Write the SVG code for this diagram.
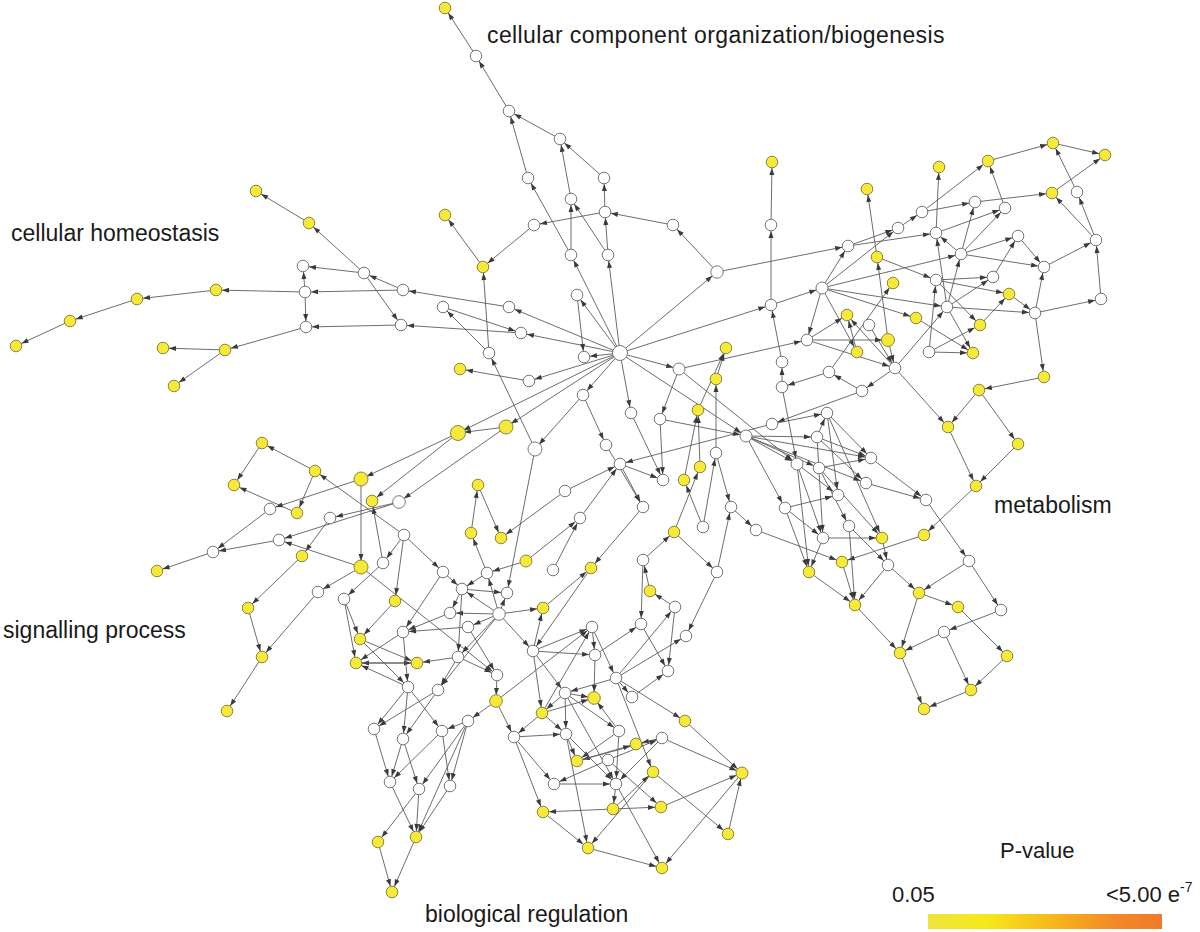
<svg xmlns="http://www.w3.org/2000/svg" width="1200" height="932" viewBox="0 0 1200 932">
<style>
#edges path{stroke:#5c5c5c;stroke-width:.9;fill:none;marker-end:url(#a)}
.w{fill:#fff;stroke:#777;stroke-width:1}
.y{fill:#F6E93A;stroke:#8a863a;stroke-width:1}
.lbl{font-family:"Liberation Sans",Arial,sans-serif;font-size:23px;fill:#1a1a1a}
.leg{font-family:"Liberation Sans",Arial,sans-serif;font-size:22px;fill:#1a1a1a}
</style>
<defs>
<marker id="a" viewBox="0 0 7 5" markerWidth="7" markerHeight="5" refX="13" refY="2.5" orient="auto" markerUnits="userSpaceOnUse" overflow="visible"><path d="M0,0L7,2.5L0,5z" fill="#3a3a3a"/></marker>
<linearGradient id="g" x1="0" y1="0" x2="1" y2="0">
<stop offset="0" stop-color="#EEE43E"/><stop offset=".25" stop-color="#F7E81A"/><stop offset=".55" stop-color="#F6B41C"/><stop offset=".8" stop-color="#F28A26"/><stop offset="1" stop-color="#EF7A2A"/>
</linearGradient>
</defs>
<rect width="1200" height="932" fill="#fff"/>
<g id="edges">
<path d="M476 56L445 8"/><path d="M509 111L476 56"/><path d="M560 139L509 111"/><path d="M528 178L509 111"/><path d="M604 178L560 139"/><path d="M571 199L560 139"/><path d="M605 212L604 178"/><path d="M605 212L534 225"/><path d="M673 225L605 212"/><path d="M534 225L483 267"/><path d="M483 267L445 215"/><path d="M571 255L571 199"/><path d="M608 255L571 199"/><path d="M608 255L605 212"/><path d="M571 255L528 178"/><path d="M717 272L673 225"/><path d="M620 353L571 255"/><path d="M620 353L608 255"/><path d="M620 353L717 272"/><path d="M620 353L577 295"/><path d="M771 225L772 162"/><path d="M771 305L771 225"/><path d="M717 272L848 246"/><path d="M620 353L771 305"/><path d="M771 305L822 288"/>
<path d="M489 353L483 267"/><path d="M535 449L489 353"/><path d="M489 353L443 307"/><path d="M443 307L521 333"/><path d="M364 273L309 223"/><path d="M309 223L256 191"/><path d="M364 273L303 266"/><path d="M403 290L364 273"/><path d="M403 290L305 292"/><path d="M305 292L303 266"/><path d="M305 292L216 290"/><path d="M216 290L137 299"/><path d="M137 299L70 321"/><path d="M70 321L16 346"/><path d="M305 292L306 327"/><path d="M364 273L401 325"/><path d="M401 325L306 327"/><path d="M306 327L225 350"/><path d="M225 350L163 348"/><path d="M225 350L174 386"/><path d="M509 307L403 290"/><path d="M521 333L401 325"/>
<path d="M620 353L509 307"/><path d="M620 353L521 333"/><path d="M620 353L529 381"/><path d="M529 381L460 369"/><path d="M620 353L458 433"/><path d="M620 353L506 427"/><path d="M620 353L583 395"/><path d="M583 395L535 449"/><path d="M620 353L584 357"/><path d="M577 295L584 357"/><path d="M620 353L631 413"/><path d="M620 353L679 369"/><path d="M620 353L746 436"/><path d="M679 369L807 340"/><path d="M679 369L797 464"/><path d="M679 369L660 419"/>
<path d="M698 410L726 348"/><path d="M716 379L726 348"/><path d="M716 453L716 379"/><path d="M700 467L698 410"/><path d="M684 480L698 410"/><path d="M674 532L700 467"/><path d="M703 527L716 453"/><path d="M716 453L731 507"/><path d="M583 395L606 445"/><path d="M606 445L643 507"/><path d="M620 464L663 480"/><path d="M660 419L663 480"/><path d="M631 413L663 480"/><path d="M772 424L620 464"/><path d="M862 391L772 424"/><path d="M746 436L817 437"/><path d="M746 436L797 464"/><path d="M746 436L785 508"/><path d="M746 436L871 458"/><path d="M782 387L797 464"/><path d="M782 387L782 362"/><path d="M782 362L771 305"/><path d="M660 419L746 436"/><path d="M620 464L643 507"/><path d="M580 518L620 464"/><path d="M565 491L620 464"/><path d="M643 507L591 568"/><path d="M772 424L827 413"/><path d="M827 413L838 495"/><path d="M827 413L871 458"/>
<path d="M898 228L922 212"/><path d="M922 212L988 161"/><path d="M988 161L1053 143"/><path d="M1053 143L1105 155"/><path d="M1052 193L1105 155"/><path d="M1077 192L1053 143"/><path d="M975 202L1052 193"/><path d="M1005 208L988 161"/><path d="M1096 240L1077 192"/><path d="M1096 240L1052 193"/><path d="M1044 267L1096 240"/><path d="M1101 299L1096 240"/><path d="M1018 236L1044 267"/><path d="M961 254L1044 267"/><path d="M993 277L1018 236"/><path d="M1035 313L1044 267"/><path d="M1035 313L1101 299"/><path d="M1035 313L1044 377"/><path d="M1044 377L979 390"/><path d="M979 390L948 427"/><path d="M979 390L1018 444"/><path d="M848 246L898 228"/><path d="M848 246L936 233"/><path d="M936 233L939 167"/><path d="M936 233L1005 208"/><path d="M961 254L975 202"/><path d="M961 254L1005 208"/><path d="M961 254L936 233"/><path d="M961 254L1018 236"/><path d="M822 288L848 246"/><path d="M822 288L961 254"/><path d="M822 288L898 228"/><path d="M822 288L947 307"/><path d="M822 288L916 318"/><path d="M822 288L807 340"/><path d="M822 288L857 352"/><path d="M877 257L867 189"/><path d="M888 340L877 257"/><path d="M877 257L936 280"/><path d="M936 280L993 277"/><path d="M936 280L1009 294"/><path d="M947 307L961 254"/><path d="M947 307L993 277"/><path d="M947 307L1035 313"/><path d="M947 307L973 353"/><path d="M1009 294L1035 313"/><path d="M980 325L1009 294"/><path d="M936 280L980 325"/><path d="M929 352L936 280"/><path d="M929 352L980 325"/><path d="M929 352L973 353"/><path d="M916 318L973 353"/><path d="M895 368L947 307"/><path d="M895 368L948 427"/><path d="M888 340L895 368"/><path d="M869 325L895 368"/><path d="M807 340L895 368"/><path d="M807 340L888 340"/><path d="M807 340L847 315"/><path d="M857 352L847 315"/><path d="M895 368L847 315"/><path d="M895 368L862 391"/><path d="M862 391L829 372"/><path d="M922 212L975 202"/><path d="M829 372L893 283"/><path d="M947 307L936 233"/><path d="M829 372L782 387"/>
<path d="M948 427L976 486"/><path d="M1018 444L976 486"/><path d="M976 486L924 535"/><path d="M924 535L842 562"/><path d="M871 458L926 500"/><path d="M866 483L926 500"/><path d="M926 500L969 561"/><path d="M969 561L1001 610"/><path d="M969 561L919 593"/><path d="M1001 610L944 632"/><path d="M944 632L900 653"/><path d="M944 632L971 690"/><path d="M958 607L1007 656"/><path d="M1007 656L971 690"/><path d="M900 653L924 709"/><path d="M971 690L924 709"/><path d="M919 593L900 653"/><path d="M919 593L958 607"/><path d="M888 565L919 593"/><path d="M855 605L900 653"/><path d="M809 572L855 605"/><path d="M888 565L855 605"/><path d="M849 526L855 605"/><path d="M842 562L855 605"/><path d="M817 437L827 413"/><path d="M817 437L871 458"/><path d="M817 437L866 483"/><path d="M817 437L823 538"/><path d="M827 413L882 538"/><path d="M797 464L838 495"/><path d="M819 468L871 458"/><path d="M819 468L882 538"/><path d="M797 464L823 538"/><path d="M797 464L809 572"/><path d="M785 508L838 495"/><path d="M785 508L823 538"/><path d="M785 508L809 572"/><path d="M756 530L842 562"/><path d="M731 507L756 530"/><path d="M823 538L809 572"/><path d="M823 538L882 538"/><path d="M849 526L888 565"/><path d="M882 538L888 565"/><path d="M746 436L866 483"/><path d="M819 468L849 526"/><path d="M746 436L819 468"/>
<path d="M553 570L580 518"/><path d="M526 561L580 518"/><path d="M543 608L591 568"/><path d="M591 568L533 651"/><path d="M650 591L643 560"/><path d="M643 560L674 532"/><path d="M675 607L650 591"/><path d="M717 572L731 507"/><path d="M674 532L717 572"/><path d="M703 527L684 480"/><path d="M643 560L641 624"/><path d="M717 572L686 636"/>
<path d="M506 427L458 433"/><path d="M458 433L361 479"/><path d="M458 433L372 501"/><path d="M506 427L399 502"/><path d="M315 471L262 443"/><path d="M262 443L234 485"/><path d="M315 471L297 513"/><path d="M297 513L234 485"/><path d="M404 535L315 471"/><path d="M361 479L270 509"/><path d="M270 509L213 552"/><path d="M213 552L157 571"/><path d="M279 540L213 552"/><path d="M399 502L330 518"/><path d="M330 518L302 556"/><path d="M399 502L279 540"/><path d="M361 479L361 567"/><path d="M383 563L372 501"/><path d="M361 567L318 592"/><path d="M318 592L262 657"/><path d="M302 556L248 608"/><path d="M248 608L262 657"/><path d="M262 657L227 711"/><path d="M361 567L279 540"/><path d="M404 535L383 563"/><path d="M404 535L395 601"/><path d="M404 535L443 572"/><path d="M383 563L344 599"/><path d="M535 449L507 593"/><path d="M471 533L478 485"/><path d="M478 485L501 538"/><path d="M565 491L501 538"/><path d="M526 561L487 573"/><path d="M487 573L471 533"/>
<path d="M344 599L360 639"/><path d="M344 599L356 663"/><path d="M395 601L360 639"/><path d="M360 639L417 663"/><path d="M417 663L356 663"/><path d="M356 663L417 663"/><path d="M403 632L356 663"/><path d="M450 613L403 632"/><path d="M361 567L497 675"/><path d="M443 572L462 589"/><path d="M462 589L507 593"/><path d="M499 614L450 613"/><path d="M499 614L462 589"/><path d="M499 614L468 627"/><path d="M499 614L487 573"/><path d="M499 614L507 593"/><path d="M499 614L543 608"/><path d="M499 614L533 651"/><path d="M499 614L438 690"/><path d="M499 614L458 657"/><path d="M468 627L403 632"/><path d="M468 627L497 675"/><path d="M443 572L403 632"/><path d="M487 573L462 589"/><path d="M462 589L450 613"/><path d="M462 589L458 657"/><path d="M458 657L417 663"/><path d="M458 657L438 690"/><path d="M458 657L497 675"/><path d="M497 675L496 701"/><path d="M360 639L408 687"/><path d="M403 632L408 687"/><path d="M408 687L356 663"/><path d="M408 687L403 739"/><path d="M408 687L442 731"/><path d="M438 690L374 729"/><path d="M438 690L403 739"/><path d="M408 687L374 729"/><path d="M496 701L468 721"/><path d="M496 701L514 737"/><path d="M468 721L442 731"/><path d="M533 651L592 627"/><path d="M533 651L595 655"/><path d="M533 651L565 693"/><path d="M533 651L542 713"/><path d="M542 713L592 627"/><path d="M565 693L542 713"/><path d="M542 713L514 737"/><path d="M542 713L566 734"/><path d="M542 713L594 698"/><path d="M533 651L543 608"/><path d="M496 701L592 627"/>
<path d="M374 729L390 782"/><path d="M403 739L390 782"/><path d="M403 739L419 789"/><path d="M442 731L390 782"/><path d="M442 731L450 786"/><path d="M468 721L419 789"/><path d="M468 721L450 786"/><path d="M468 721L416 837"/><path d="M390 782L416 837"/><path d="M419 789L416 837"/><path d="M419 789L378 842"/><path d="M450 786L416 837"/><path d="M378 842L392 892"/><path d="M416 837L392 892"/><path d="M514 737L543 812"/><path d="M514 737L554 784"/><path d="M514 737L566 734"/><path d="M566 734L577 761"/><path d="M566 734L588 848"/><path d="M554 784L616 784"/><path d="M608 760L554 784"/><path d="M613 809L543 812"/><path d="M543 812L588 848"/><path d="M588 848L662 868"/><path d="M616 784L613 809"/><path d="M619 731L616 784"/><path d="M619 731L577 761"/>
<path d="M592 627L595 655"/><path d="M592 627L616 678"/><path d="M595 655L641 624"/><path d="M641 624L668 671"/><path d="M616 678L675 607"/><path d="M675 607L668 671"/><path d="M616 678L686 636"/><path d="M595 655L594 698"/><path d="M632 697L668 671"/><path d="M616 678L565 693"/><path d="M616 678L632 697"/><path d="M616 678L685 721"/><path d="M616 678L653 772"/><path d="M565 693L594 698"/><path d="M565 693L566 734"/><path d="M565 693L619 731"/><path d="M565 693L616 784"/><path d="M619 731L594 698"/><path d="M566 734L616 784"/><path d="M662 738L636 744"/><path d="M662 738L742 773"/><path d="M662 738L577 761"/><path d="M577 761L636 744"/><path d="M608 760L662 738"/><path d="M608 760L661 807"/><path d="M653 772L728 834"/><path d="M613 809L653 772"/><path d="M685 721L742 773"/><path d="M613 809L661 807"/><path d="M661 807L742 773"/><path d="M616 784L662 868"/><path d="M728 834L742 773"/><path d="M742 773L662 868"/><path d="M662 738L616 784"/><path d="M653 772L588 848"/>
</g>
<g id="nodes">
<g id="n1"><circle class="y" cx="445" cy="8" r="5.8"/></g>
<g id="n2"><circle class="w" cx="476" cy="56" r="5.8"/></g>
<g id="n3"><circle class="w" cx="509" cy="111" r="5.8"/></g>
<g id="n4"><circle class="w" cx="560" cy="139" r="5.8"/></g>
<g id="n5"><circle class="w" cx="528" cy="178" r="5.8"/></g>
<g id="n6"><circle class="w" cx="604" cy="178" r="5.8"/></g>
<g id="n7"><circle class="w" cx="571" cy="199" r="5.8"/></g>
<g id="n8"><circle class="w" cx="605" cy="212" r="5.8"/></g>
<g id="n9"><circle class="w" cx="534" cy="225" r="5.8"/></g>
<g id="n10"><circle class="w" cx="673" cy="225" r="5.8"/></g>
<g id="n11"><circle class="y" cx="445" cy="215" r="5.8"/></g>
<g id="n12"><circle class="y" cx="483" cy="267" r="5.8"/></g>
<g id="n13"><circle class="w" cx="571" cy="255" r="5.8"/></g>
<g id="n14"><circle class="w" cx="608" cy="255" r="5.8"/></g>
<g id="n15"><circle class="w" cx="717" cy="272" r="6.2"/></g>
<g id="n16"><circle class="y" cx="772" cy="162" r="5.8"/></g>
<g id="n17"><circle class="w" cx="771" cy="225" r="5.8"/></g>
<g id="n18"><circle class="w" cx="771" cy="305" r="5.8"/></g>
<g id="n19"><circle class="w" cx="577" cy="295" r="5.8"/></g>
<g id="n20"><circle class="w" cx="509" cy="307" r="5.8"/></g>
<g id="n21"><circle class="w" cx="443" cy="307" r="5.8"/></g>
<g id="n22"><circle class="w" cx="403" cy="290" r="5.8"/></g>
<g id="n23"><circle class="w" cx="364" cy="273" r="5.8"/></g>
<g id="n24"><circle class="w" cx="303" cy="266" r="5.8"/></g>
<g id="n25"><circle class="w" cx="305" cy="292" r="5.8"/></g>
<g id="n26"><circle class="w" cx="306" cy="327" r="5.8"/></g>
<g id="n27"><circle class="w" cx="401" cy="325" r="5.8"/></g>
<g id="n28"><circle class="w" cx="521" cy="333" r="5.8"/></g>
<g id="n29"><circle class="w" cx="489" cy="353" r="5.8"/></g>
<g id="n30"><circle class="y" cx="256" cy="191" r="5.8"/></g>
<g id="n31"><circle class="y" cx="309" cy="223" r="5.8"/></g>
<g id="n32"><circle class="y" cx="216" cy="290" r="5.8"/></g>
<g id="n33"><circle class="y" cx="137" cy="299" r="5.8"/></g>
<g id="n34"><circle class="y" cx="70" cy="321" r="5.8"/></g>
<g id="n35"><circle class="y" cx="16" cy="346" r="5.8"/></g>
<g id="n36"><circle class="y" cx="225" cy="350" r="5.8"/></g>
<g id="n37"><circle class="y" cx="163" cy="348" r="5.8"/></g>
<g id="n38"><circle class="y" cx="174" cy="386" r="5.8"/></g>
<g id="n39"><circle class="y" cx="460" cy="369" r="5.8"/></g>
<g id="n40"><circle class="w" cx="529" cy="381" r="5.8"/></g>
<g id="n41"><circle class="w" cx="620" cy="353" r="7.5"/></g>
<g id="n42"><circle class="w" cx="584" cy="357" r="5.8"/></g>
<g id="n43"><circle class="w" cx="679" cy="369" r="6"/></g>
<g id="n44"><circle class="y" cx="726" cy="348" r="5.8"/></g>
<g id="n45"><circle class="w" cx="583" cy="395" r="5.8"/></g>
<g id="n46"><circle class="y" cx="716" cy="379" r="5.8"/></g>
<g id="n47"><circle class="w" cx="631" cy="413" r="5.8"/></g>
<g id="n48"><circle class="w" cx="660" cy="419" r="5.8"/></g>
<g id="n49"><circle class="y" cx="698" cy="410" r="5.8"/></g>
<g id="n50"><circle class="y" cx="506" cy="427" r="7"/></g>
<g id="n51"><circle class="y" cx="458" cy="433" r="7.5"/></g>
<g id="n52"><circle class="w" cx="535" cy="449" r="7"/></g>
<g id="n53"><circle class="w" cx="606" cy="445" r="5.8"/></g>
<g id="n54"><circle class="w" cx="620" cy="464" r="5.8"/></g>
<g id="n55"><circle class="w" cx="663" cy="480" r="5.8"/></g>
<g id="n56"><circle class="y" cx="684" cy="480" r="5.8"/></g>
<g id="n57"><circle class="y" cx="700" cy="467" r="5.8"/></g>
<g id="n58"><circle class="w" cx="716" cy="453" r="5.8"/></g>
<g id="n59"><circle class="w" cx="746" cy="436" r="6"/></g>
<g id="n60"><circle class="w" cx="772" cy="424" r="5.8"/></g>
<g id="n61"><circle class="w" cx="782" cy="362" r="5.8"/></g>
<g id="n62"><circle class="w" cx="782" cy="387" r="5.8"/></g>
<g id="n63"><circle class="w" cx="797" cy="464" r="6"/></g>
<g id="n64"><circle class="w" cx="819" cy="468" r="5.8"/></g>
<g id="n65"><circle class="w" cx="817" cy="437" r="5.8"/></g>
<g id="n66"><circle class="w" cx="827" cy="413" r="5.8"/></g>
<g id="n67"><circle class="w" cx="871" cy="458" r="5.8"/></g>
<g id="n68"><circle class="w" cx="866" cy="483" r="5.8"/></g>
<g id="n69"><circle class="w" cx="838" cy="495" r="5.8"/></g>
<g id="n70"><circle class="w" cx="565" cy="491" r="5.8"/></g>
<g id="n71"><circle class="w" cx="643" cy="507" r="5.8"/></g>
<g id="n72"><circle class="w" cx="580" cy="518" r="5.8"/></g>
<g id="n73"><circle class="w" cx="703" cy="527" r="5.8"/></g>
<g id="n74"><circle class="y" cx="674" cy="532" r="5.8"/></g>
<g id="n75"><circle class="w" cx="731" cy="507" r="5.8"/></g>
<g id="n76"><circle class="w" cx="785" cy="508" r="5.8"/></g>
<g id="n77"><circle class="w" cx="756" cy="530" r="5.8"/></g>
<g id="n78"><circle class="w" cx="849" cy="526" r="5.8"/></g>
<g id="n79"><circle class="w" cx="823" cy="538" r="5.8"/></g>
<g id="n80"><circle class="y" cx="882" cy="538" r="5.8"/></g>
<g id="n81"><circle class="w" cx="553" cy="570" r="5.8"/></g>
<g id="n82"><circle class="y" cx="591" cy="568" r="5.8"/></g>
<g id="n83"><circle class="w" cx="643" cy="560" r="5.8"/></g>
<g id="n84"><circle class="y" cx="650" cy="591" r="5.8"/></g>
<g id="n85"><circle class="w" cx="717" cy="572" r="5.8"/></g>
<g id="n86"><circle class="y" cx="842" cy="562" r="5.8"/></g>
<g id="n87"><circle class="y" cx="809" cy="572" r="5.8"/></g>
<g id="n88"><circle class="w" cx="888" cy="565" r="5.8"/></g>
<g id="n89"><circle class="y" cx="855" cy="605" r="5.8"/></g>
<g id="n90"><circle class="w" cx="675" cy="607" r="5.8"/></g>
<g id="n91"><circle class="y" cx="867" cy="189" r="5.8"/></g>
<g id="n92"><circle class="y" cx="939" cy="167" r="5.8"/></g>
<g id="n93"><circle class="y" cx="988" cy="161" r="5.8"/></g>
<g id="n94"><circle class="y" cx="1053" cy="143" r="5.8"/></g>
<g id="n95"><circle class="y" cx="1105" cy="155" r="5.8"/></g>
<g id="n96"><circle class="y" cx="1052" cy="193" r="5.8"/></g>
<g id="n97"><circle class="w" cx="1077" cy="192" r="5.8"/></g>
<g id="n98"><circle class="w" cx="975" cy="202" r="5.8"/></g>
<g id="n99"><circle class="w" cx="1005" cy="208" r="5.8"/></g>
<g id="n100"><circle class="w" cx="922" cy="212" r="5.8"/></g>
<g id="n101"><circle class="w" cx="898" cy="228" r="5.8"/></g>
<g id="n102"><circle class="w" cx="936" cy="233" r="5.8"/></g>
<g id="n103"><circle class="w" cx="848" cy="246" r="5.8"/></g>
<g id="n104"><circle class="w" cx="1018" cy="236" r="5.8"/></g>
<g id="n105"><circle class="w" cx="1096" cy="240" r="5.8"/></g>
<g id="n106"><circle class="w" cx="961" cy="254" r="5.8"/></g>
<g id="n107"><circle class="y" cx="877" cy="257" r="5.8"/></g>
<g id="n108"><circle class="w" cx="1044" cy="267" r="5.8"/></g>
<g id="n109"><circle class="w" cx="936" cy="280" r="5.8"/></g>
<g id="n110"><circle class="w" cx="993" cy="277" r="5.8"/></g>
<g id="n111"><circle class="w" cx="822" cy="288" r="6"/></g>
<g id="n112"><circle class="y" cx="893" cy="283" r="5.8"/></g>
<g id="n113"><circle class="y" cx="1009" cy="294" r="5.8"/></g>
<g id="n114"><circle class="w" cx="1101" cy="299" r="5.8"/></g>
<g id="n115"><circle class="w" cx="947" cy="307" r="5.8"/></g>
<g id="n116"><circle class="y" cx="847" cy="315" r="5.8"/></g>
<g id="n117"><circle class="y" cx="916" cy="318" r="5.8"/></g>
<g id="n118"><circle class="w" cx="869" cy="325" r="5.8"/></g>
<g id="n119"><circle class="w" cx="1035" cy="313" r="5.8"/></g>
<g id="n120"><circle class="y" cx="980" cy="325" r="5.8"/></g>
<g id="n121"><circle class="w" cx="807" cy="340" r="5.8"/></g>
<g id="n122"><circle class="y" cx="888" cy="340" r="6.5"/></g>
<g id="n123"><circle class="y" cx="857" cy="352" r="5.8"/></g>
<g id="n124"><circle class="w" cx="929" cy="352" r="5.8"/></g>
<g id="n125"><circle class="y" cx="973" cy="353" r="5.8"/></g>
<g id="n126"><circle class="w" cx="895" cy="368" r="5.8"/></g>
<g id="n127"><circle class="w" cx="829" cy="372" r="5.8"/></g>
<g id="n128"><circle class="y" cx="1044" cy="377" r="5.8"/></g>
<g id="n129"><circle class="w" cx="862" cy="391" r="5.8"/></g>
<g id="n130"><circle class="y" cx="979" cy="390" r="5.8"/></g>
<g id="n131"><circle class="y" cx="948" cy="427" r="5.8"/></g>
<g id="n132"><circle class="y" cx="1018" cy="444" r="5.8"/></g>
<g id="n133"><circle class="y" cx="976" cy="486" r="5.8"/></g>
<g id="n134"><circle class="w" cx="926" cy="500" r="5.8"/></g>
<g id="n135"><circle class="y" cx="924" cy="535" r="5.8"/></g>
<g id="n136"><circle class="w" cx="969" cy="561" r="5.8"/></g>
<g id="n137"><circle class="y" cx="919" cy="593" r="5.8"/></g>
<g id="n138"><circle class="y" cx="958" cy="607" r="5.8"/></g>
<g id="n139"><circle class="w" cx="1001" cy="610" r="5.8"/></g>
<g id="n140"><circle class="w" cx="944" cy="632" r="5.8"/></g>
<g id="n141"><circle class="y" cx="900" cy="653" r="5.8"/></g>
<g id="n142"><circle class="y" cx="1007" cy="656" r="5.8"/></g>
<g id="n143"><circle class="y" cx="971" cy="690" r="5.8"/></g>
<g id="n144"><circle class="y" cx="924" cy="709" r="5.8"/></g>
<g id="n145"><circle class="y" cx="262" cy="443" r="5.8"/></g>
<g id="n146"><circle class="y" cx="315" cy="471" r="5.8"/></g>
<g id="n147"><circle class="y" cx="361" cy="479" r="7"/></g>
<g id="n148"><circle class="y" cx="234" cy="485" r="5.8"/></g>
<g id="n149"><circle class="y" cx="297" cy="513" r="5.8"/></g>
<g id="n150"><circle class="y" cx="372" cy="501" r="5.8"/></g>
<g id="n151"><circle class="w" cx="399" cy="502" r="6.3"/></g>
<g id="n152"><circle class="w" cx="270" cy="509" r="5.8"/></g>
<g id="n153"><circle class="w" cx="330" cy="518" r="5.8"/></g>
<g id="n154"><circle class="w" cx="279" cy="540" r="5.8"/></g>
<g id="n155"><circle class="w" cx="213" cy="552" r="5.8"/></g>
<g id="n156"><circle class="y" cx="157" cy="571" r="5.8"/></g>
<g id="n157"><circle class="y" cx="302" cy="556" r="5.8"/></g>
<g id="n158"><circle class="y" cx="478" cy="485" r="5.8"/></g>
<g id="n159"><circle class="y" cx="471" cy="533" r="5.8"/></g>
<g id="n160"><circle class="y" cx="501" cy="538" r="5.8"/></g>
<g id="n161"><circle class="y" cx="526" cy="561" r="6"/></g>
<g id="n162"><circle class="w" cx="404" cy="535" r="5.8"/></g>
<g id="n163"><circle class="y" cx="248" cy="608" r="5.8"/></g>
<g id="n164"><circle class="y" cx="262" cy="657" r="5.8"/></g>
<g id="n165"><circle class="y" cx="227" cy="711" r="5.8"/></g>
<g id="n166"><circle class="w" cx="318" cy="592" r="5.8"/></g>
<g id="n167"><circle class="w" cx="344" cy="599" r="5.8"/></g>
<g id="n168"><circle class="y" cx="361" cy="567" r="7"/></g>
<g id="n169"><circle class="w" cx="383" cy="563" r="5.8"/></g>
<g id="n170"><circle class="y" cx="395" cy="601" r="5.8"/></g>
<g id="n171"><circle class="w" cx="443" cy="572" r="5.8"/></g>
<g id="n172"><circle class="w" cx="462" cy="589" r="5.8"/></g>
<g id="n173"><circle class="w" cx="487" cy="573" r="5.8"/></g>
<g id="n174"><circle class="w" cx="507" cy="593" r="5.8"/></g>
<g id="n175"><circle class="w" cx="450" cy="613" r="5.8"/></g>
<g id="n176"><circle class="w" cx="499" cy="614" r="6.3"/></g>
<g id="n177"><circle class="w" cx="468" cy="627" r="5.8"/></g>
<g id="n178"><circle class="w" cx="403" cy="632" r="5.8"/></g>
<g id="n179"><circle class="y" cx="360" cy="639" r="5.8"/></g>
<g id="n180"><circle class="y" cx="356" cy="663" r="5.8"/></g>
<g id="n181"><circle class="y" cx="417" cy="663" r="5.8"/></g>
<g id="n182"><circle class="w" cx="458" cy="657" r="5.8"/></g>
<g id="n183"><circle class="w" cx="497" cy="675" r="5.8"/></g>
<g id="n184"><circle class="w" cx="408" cy="687" r="5.8"/></g>
<g id="n185"><circle class="w" cx="438" cy="690" r="5.8"/></g>
<g id="n186"><circle class="w" cx="533" cy="651" r="5.8"/></g>
<g id="n187"><circle class="w" cx="592" cy="627" r="5.8"/></g>
<g id="n188"><circle class="w" cx="595" cy="655" r="5.8"/></g>
<g id="n189"><circle class="w" cx="565" cy="693" r="5.8"/></g>
<g id="n190"><circle class="y" cx="594" cy="698" r="6.3"/></g>
<g id="n191"><circle class="y" cx="496" cy="701" r="6.3"/></g>
<g id="n192"><circle class="y" cx="542" cy="713" r="5.8"/></g>
<g id="n193"><circle class="w" cx="468" cy="721" r="5.8"/></g>
<g id="n194"><circle class="w" cx="374" cy="729" r="5.8"/></g>
<g id="n195"><circle class="w" cx="403" cy="739" r="5.8"/></g>
<g id="n196"><circle class="w" cx="442" cy="731" r="5.8"/></g>
<g id="n197"><circle class="w" cx="514" cy="737" r="5.8"/></g>
<g id="n198"><circle class="w" cx="566" cy="734" r="5.8"/></g>
<g id="n199"><circle class="y" cx="543" cy="608" r="5.8"/></g>
<g id="n200"><circle class="w" cx="641" cy="624" r="5.8"/></g>
<g id="n202"><circle class="w" cx="686" cy="636" r="5.8"/></g>
<g id="n203"><circle class="w" cx="668" cy="671" r="5.8"/></g>
<g id="n204"><circle class="w" cx="616" cy="678" r="5.8"/></g>
<g id="n205"><circle class="w" cx="632" cy="697" r="5.8"/></g>
<g id="n206"><circle class="y" cx="685" cy="721" r="5.8"/></g>
<g id="n207"><circle class="w" cx="619" cy="731" r="5.8"/></g>
<g id="n208"><circle class="w" cx="662" cy="738" r="5.8"/></g>
<g id="n209"><circle class="y" cx="636" cy="744" r="5.8"/></g>
<g id="n210"><circle class="y" cx="577" cy="761" r="5.8"/></g>
<g id="n211"><circle class="w" cx="608" cy="760" r="5.8"/></g>
<g id="n212"><circle class="y" cx="653" cy="772" r="5.8"/></g>
<g id="n213"><circle class="y" cx="742" cy="773" r="6"/></g>
<g id="n214"><circle class="w" cx="554" cy="784" r="5.8"/></g>
<g id="n215"><circle class="w" cx="616" cy="784" r="5.8"/></g>
<g id="n216"><circle class="y" cx="543" cy="812" r="5.8"/></g>
<g id="n217"><circle class="y" cx="613" cy="809" r="5.8"/></g>
<g id="n218"><circle class="y" cx="661" cy="807" r="5.8"/></g>
<g id="n219"><circle class="y" cx="728" cy="834" r="5.8"/></g>
<g id="n220"><circle class="y" cx="588" cy="848" r="5.8"/></g>
<g id="n221"><circle class="y" cx="662" cy="868" r="5.8"/></g>
<g id="n222"><circle class="w" cx="390" cy="782" r="5.8"/></g>
<g id="n223"><circle class="w" cx="419" cy="789" r="5.8"/></g>
<g id="n224"><circle class="w" cx="450" cy="786" r="5.8"/></g>
<g id="n225"><circle class="y" cx="378" cy="842" r="5.8"/></g>
<g id="n226"><circle class="y" cx="416" cy="837" r="5.8"/></g>
<g id="n227"><circle class="y" cx="392" cy="892" r="5.8"/></g>
</g>
<g id="labels">
<text class="lbl" x="487" y="43" letter-spacing="0.4">cellular component organization/biogenesis</text>
<text class="lbl" x="11" y="241">cellular homeostasis</text>
<text class="lbl" x="994" y="513">metabolism</text>
<text class="lbl" x="3" y="638">signalling process</text>
<text class="lbl" x="425" y="922">biological regulation</text>
</g>
<g id="legend">
<text class="leg" x="1000" y="858">P-value</text>
<text class="leg" x="892" y="902">0.05</text>
<text class="leg" x="1106" y="902">&lt;5.00 e<tspan font-size="14" dy="-10">-7</tspan></text>
<rect x="928" y="914" width="234" height="15" fill="url(#g)"/>
</g>
</svg>
